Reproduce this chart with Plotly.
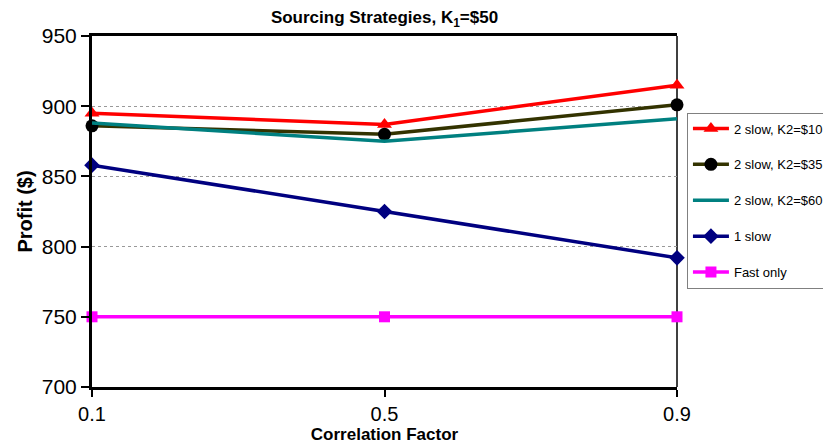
import plotly.graph_objects as go

# Correlation factor values on the x axis
correlation = [0.1, 0.5, 0.9]

# Expected profit for each sourcing strategy
two_slow_k2_10 = [895, 887, 915]
two_slow_k2_35 = [886, 880, 901]
two_slow_k2_60 = [888, 875, 891]
one_slow = [858, 825, 792]
fast_only = [750, 750, 750]

series = [
    ("2 slow, K2=$10", two_slow_k2_10, "#FF0000", dict(symbol="triangle-up", size=13, color="#FF0000")),
    ("2 slow, K2=$35", two_slow_k2_35, "#333300", dict(symbol="circle", size=13, color="#000000")),
    ("2 slow, K2=$60", two_slow_k2_60, "#008080", None),
    ("1 slow", one_slow, "#000080", dict(symbol="diamond", size=12, color="#000080")),
    ("Fast only", fast_only, "#FF00FF", dict(symbol="square", size=11, color="#FF00FF")),
]

fig = go.Figure()
for i, (name, vals, color, marker) in enumerate(series):
    kw = dict(mode="lines+markers", marker=marker) if marker else dict(mode="lines")
    fig.add_trace(go.Scatter(
        x=correlation, y=vals, name=name,
        line=dict(color=color, width=3.5),
        legendgroup=f"g{i}", cliponaxis=False, **kw,
    ))

fig.update_layout(
    width=823, height=447,
    margin=dict(l=92, r=146, t=36, b=60, autoexpand=False),
    paper_bgcolor="white", plot_bgcolor="white",
    font=dict(family="Liberation Sans, Arial, sans-serif", color="black"),
    title=dict(
        text="<b>Sourcing Strategies, K<sub>1</sub>=$50</b>",
        x=(92 + 677) / 2 / 823, xanchor="center", y=0.962, yanchor="middle",
        font=dict(size=17),
    ),
    showlegend=True,
    legend=dict(
        x=1.017, xanchor="left", y=0.782, yanchor="top",
        bgcolor="white", bordercolor="#808080", borderwidth=1,
        font=dict(size=13), tracegroupgap=16, itemwidth=36,
    ),
    xaxis=dict(
        range=[0.1, 0.9], tickvals=correlation, ticktext=["0.1", "0.5", "0.9"],
        showgrid=False, zeroline=False,
        showline=True, linecolor="black", linewidth=3, mirror=True,
        ticks="outside", ticklen=7, tickwidth=2, tickcolor="black",
        tickfont=dict(size=20),
        title=dict(text="<b>Correlation Factor</b>", font=dict(size=17), standoff=2),
    ),
    yaxis=dict(
        range=[700, 950], tickvals=[700, 750, 800, 850, 900, 950],
        showgrid=True, gridcolor="#999999", griddash="dot", gridwidth=1,
        zeroline=False,
        showline=True, linecolor="black", linewidth=3,
        ticks="outside", ticklen=8, tickwidth=2, tickcolor="black",
        tickfont=dict(size=21),
        title=dict(text="<b>Profit ($)</b>", font=dict(size=20), standoff=4),
    ),
)

# Thin right-hand border of the plot area
fig.add_shape(type="line", xref="paper", yref="paper", x0=1, x1=1, y0=0, y1=1,
              line=dict(color="black", width=1.5), layer="below")

fig.write_html("out.html")
